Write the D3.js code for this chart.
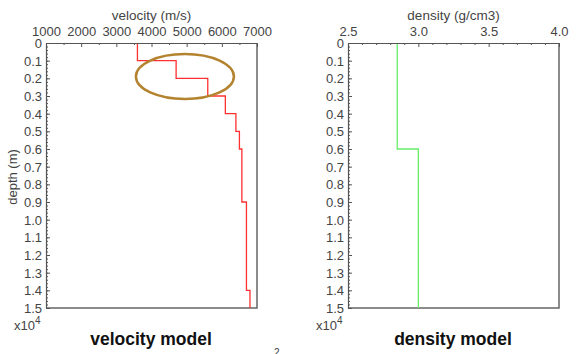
<!DOCTYPE html>
<html>
<head>
<meta charset="utf-8">
<script src="https://cdn.jsdelivr.net/npm/d3@7"></script>
<style>
  body { margin: 0; background: #fff; }
  text { font-family: "Liberation Sans", Arial, sans-serif; fill: #444; }
  .title { font-size: 17.5px; font-weight: bold; fill: #111; }
</style>
</head>
<body>
<div id="vis"></div>
<script>
// velocity layers (top depth, bottom depth, m/s)
const velTops = [0, 0.1, 0.2, 0.3, 0.4, 0.5, 0.6, 0.9, 1.4];
const velBottoms = [0.1, 0.2, 0.3, 0.4, 0.5, 0.6, 0.9, 1.4, 1.5];
const velValues = [3600, 4700, 5600, 6100, 6400, 6500, 6570, 6700, 6800];

// density layers
const denTops = [0, 0.6];
const denBottoms = [0.6, 1.5];
const denValues = [2.85, 3.0];

const depthTicks = [0, 0.1, 0.2, 0.3, 0.4, 0.5, 0.6, 0.7, 0.8, 0.9, 1.0, 1.1, 1.2, 1.3, 1.4, 1.5];
const velTicks = [1000, 2000, 3000, 4000, 5000, 6000, 7000];
const denTicks = [2.5, 3.0, 3.5, 4.0];

const W = 576, H = 354;
const plotTop = 43, plotBottom = 308;

const svg = d3.select('#vis').append('svg')
    .attr('width', W).attr('height', H);

const yScale = d3.scaleLinear().domain([0, 1.5]).range([plotTop, plotBottom]);

function steps(tops, bottoms, vals) {
    // build step polyline points
    const pts = [];
    tops.forEach((t, i) => {
        pts.push([vals[i], t]);
        pts.push([vals[i], bottoms[i]]);
    });
    return pts;
}

function panel(opt) {
    const g = svg.append('g');
    const x = d3.scaleLinear().domain(opt.domain).range([opt.left, opt.right]);

    // frame right + bottom
    g.append('path')
        .attr('d', `M${opt.left},${plotBottom}H${opt.right}V${plotTop}`)
        .attr('fill', 'none').attr('stroke', '#666').attr('stroke-width', 1.5);

    // data line
    const line = d3.line().x(d => x(d[0])).y(d => yScale(d[1]));
    g.append('path')
        .datum(steps(opt.tops, opt.bottoms, opt.values))
        .attr('d', line)
        .attr('fill', 'none')
        .attr('stroke', opt.color)
        .attr('stroke-width', 1.3);

    // top axis, ticks pointing into plot
    const xAxis = d3.axisTop(x).tickValues(opt.ticks).tickSizeInner(-4).tickSizeOuter(0)
        .tickFormat(opt.fmt);
    const xa = g.append('g').attr('transform', `translate(0,${plotTop})`).call(xAxis);
    xa.select('.domain').attr('stroke', '#555');
    xa.selectAll('.tick line').attr('stroke', '#555');
    xa.selectAll('.tick text').attr('y', -7)
        .style('font-size', '13px').attr('fill', '#444').attr('font-family', null);
    const xMinor = d3.axisTop(x).tickValues(opt.minor).tickSize(-2).tickFormat('');
    const xm = g.append('g').attr('transform', `translate(0,${plotTop})`).call(xMinor);
    xm.select('.domain').remove();
    xm.selectAll('line').attr('stroke', '#555');

    // left axis
    const yAxis = d3.axisLeft(yScale).tickValues(depthTicks).tickSizeInner(-4).tickSizeOuter(0)
        .tickFormat(d => d === 0 ? '0' : d3.format('.1f')(d));
    const ya = g.append('g').attr('transform', `translate(${opt.left},0)`).call(yAxis);
    ya.select('.domain').attr('stroke', '#555').attr('stroke-width', 1.2);
    ya.selectAll('.tick line').attr('stroke', '#555');
    ya.selectAll('.tick text').attr('x', -4).attr('dy', '0.35em')
        .style('font-size', '13px').attr('fill', '#444').attr('font-family', null);
    const yMinor = d3.axisLeft(yScale).tickValues(d3.range(0, 76).map(i => i * 0.02)).tickSize(-2).tickFormat('');
    const ym = g.append('g').attr('transform', `translate(${opt.left},0)`).call(yMinor);
    ym.select('.domain').remove();
    ym.selectAll('line').attr('stroke', '#555');

    // axis label above
    g.append('text').attr('x', (opt.left + opt.right) / 2).attr('y', 20)
        .attr('text-anchor', 'middle').style('font-size', '13.5px').text(opt.label);

    // x10^4 note
    const note = g.append('text').attr('x', opt.left - 32).attr('y', 330).style('font-size', '13px');
    note.append('tspan').text('x10');
    note.append('tspan').attr('dy', -6).style('font-size', '10px').text('4');

    // title
    g.append('text').attr('class', 'title')
        .attr('x', opt.titleX).attr('y', 345)
        .attr('text-anchor', 'middle').text(opt.title);

    return x;
}

const xVel = panel({
    domain: [1000, 7000], left: 46, right: 257,
    tops: velTops, bottoms: velBottoms, values: velValues, color: '#ff3030',
    ticks: velTicks, minor: d3.range(1500, 7000, 1000), fmt: d3.format('d'),
    label: 'velocity (m/s)', title: 'velocity model', titleX: 151
});

panel({
    domain: [2.5, 4.0], left: 348, right: 559,
    tops: denTops, bottoms: denBottoms, values: denValues, color: '#66ee66',
    ticks: denTicks, minor: d3.range(0, 16).map(i => 2.5 + i * 0.1).filter((d, i) => i % 5 !== 0),
    fmt: d3.format('.1f'),
    label: 'density (g/cm3)', title: 'density model', titleX: 453
});

// depth label on left panel
svg.append('text')
    .attr('transform', 'rotate(-90)')
    .attr('x', -177).attr('y', 17)
    .attr('text-anchor', 'middle').style('font-size', '13px')
    .text('depth (m)');

// highlight ellipse around the velocity jumps
svg.append('ellipse')
    .attr('cx', xVel(4950)).attr('cy', yScale(0.19))
    .attr('rx', 49).attr('ry', 22.5)
    .attr('fill', 'none').attr('stroke', '#b4832f').attr('stroke-width', 2.5);

// cut-off mark below the panels
svg.append('text').attr('x', 274).attr('y', 356).style('font-size', '10px').attr('fill', '#555').text('2');
</script>
</body>
</html>
